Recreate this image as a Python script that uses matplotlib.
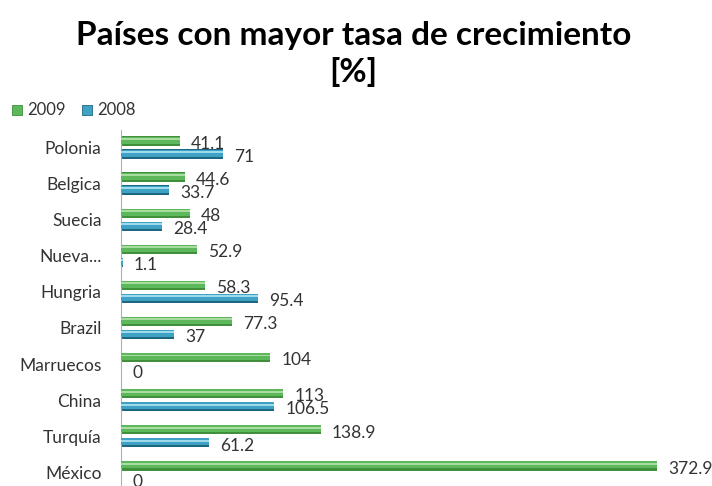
import matplotlib
matplotlib.use("Agg")
import matplotlib.pyplot as plt
from matplotlib.patches import Rectangle

# data
countries = ["Polonia", "Belgica", "Suecia", "Nueva...", "Hungria",
             "Brazil", "Marruecos", "China", "Turquía", "México"]
values_2009 = [41.1, 44.6, 48, 52.9, 58.3, 77.3, 104, 113, 138.9, 372.9]
values_2008 = [71, 33.7, 28.4, 1.1, 95.4, 37, 0, 106.5, 61.2, 0]
labels_2009 = ["41.1", "44.6", "48", "52.9", "58.3", "77.3", "104", "113", "138.9", "372.9"]
labels_2008 = ["71", "33.7", "28.4", "1.1", "95.4", "37", "0", "106.5", "61.2", "0"]
series_names = ["2009", "2008"]

FONT = ["Lato", "DejaVu Sans"]
plt.rcParams["font.family"] = FONT

GREEN = ("#3f8f3b", "#5cb85a", "#a9dca1")  # dark edge, body, highlight
BLUE = ("#1d6680", "#3fa2c4", "#9cdbec")

W, H = 712, 486
fig = plt.figure(figsize=(W / 100, H / 100), dpi=100)
fig.patch.set_facecolor("white")

ax_left, ax_top = 121, 130
ax = fig.add_axes([ax_left / W, 0, 1 - ax_left / W, (H - ax_top) / H])

bar_h = 0.26
offset = 0.18


def draw_bars(positions, vals, colors):
    dark, body, light = colors
    ax.barh(positions, vals, height=bar_h, color=dark, zorder=2)
    ax.barh([p - bar_h * 0.1 for p in positions], vals, height=bar_h * 0.75,
            color=body, zorder=3)
    ax.barh([p - bar_h * 0.22 for p in positions], vals, height=bar_h * 0.2,
            color=light, zorder=4)


idx = list(range(len(countries)))
pos_2009 = [i - offset for i in idx]
pos_2008 = [i + offset for i in idx]
draw_bars(pos_2009, values_2009, GREEN)
draw_bars(pos_2008, values_2008, BLUE)

# data labels, nudged right and slightly down like the original
for p, v, t in zip(pos_2009, values_2009, labels_2009):
    ax.annotate(t, (v, p), xytext=(8, -2), textcoords="offset points",
                va="center", ha="left", fontsize=12.5, color="#333333", zorder=5)
for p, v, t in zip(pos_2008, values_2008, labels_2008):
    ax.annotate(t, (v, p), xytext=(8, -2), textcoords="offset points",
                va="center", ha="left", fontsize=12.5, color="#333333", zorder=5)

scale = 1.437  # pixels per unit
ax.set_xlim(0, (W - ax_left) / scale)
ax.set_ylim(9.377, -0.485)
ax.set_yticks(idx)
ax.set_yticklabels(countries, fontsize=12.5, color="#333333")
ax.tick_params(axis="y", length=0, pad=14)
ax.set_xticks([])
for side in ["top", "right", "bottom"]:
    ax.spines[side].set_visible(False)
ax.spines["left"].set_color("#b0b0b0")
ax.set_facecolor("none")

# title
fig.text(0.4965, 1 - 35 / H, "Países con mayor tasa de crecimiento",
         ha="center", va="center", fontsize=24, fontweight="bold", color="black")
fig.text(0.4965, 1 - 72 / H, "[%]", ha="center", va="center",
         fontsize=24, fontweight="bold", color="black")

# legend
leg_y = 1 - 110 / H
for x0, name, cols in [(12, series_names[0], GREEN), (82, series_names[1], BLUE)]:
    fig.patches.append(Rectangle((x0 / W, leg_y - 5 / H), 10 / W, 10 / H,
                                 transform=fig.transFigure, facecolor=cols[1],
                                 edgecolor=cols[0], linewidth=0.6))
    fig.text((x0 + 15) / W, leg_y, name, ha="left", va="center",
             fontsize=12, color="#333333")

fig.savefig("out.png", dpi=100)
